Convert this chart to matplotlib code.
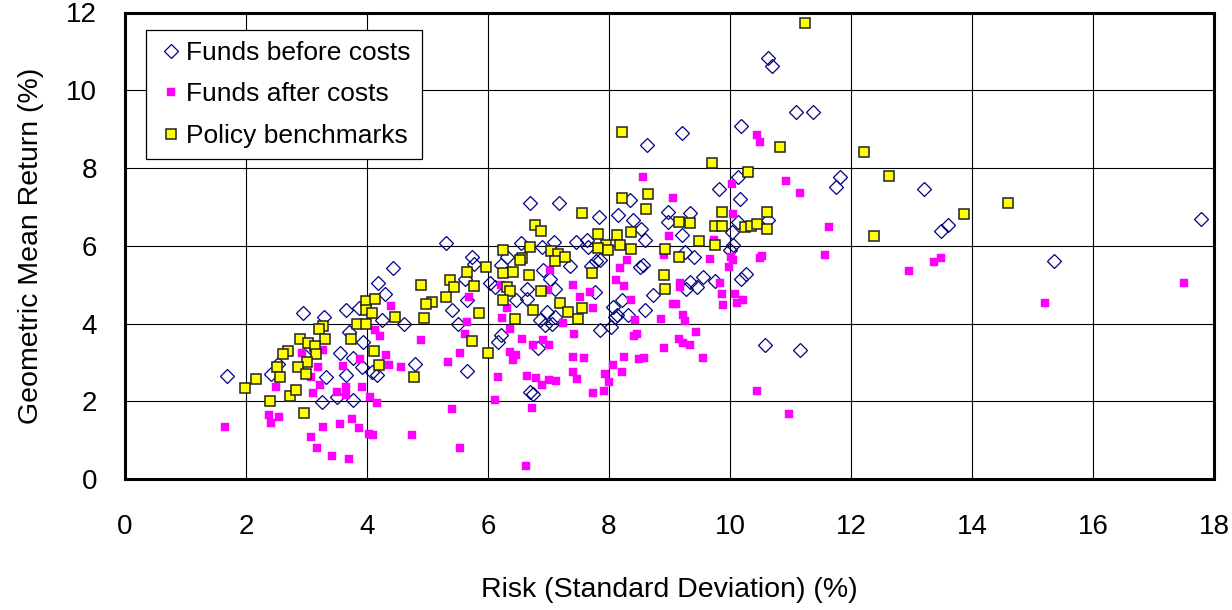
import matplotlib
matplotlib.use("Agg")
import matplotlib.pyplot as plt
import numpy as np

# ---- data: (risk, return) pairs ----
before_x = [4.43, 4.19, 4.29, 2.94, 3.29, 3.65, 3.86, 4.24, 4.61, 3.70, 3.94, 3.55, 3.07, 3.77, 3.91, 4.08,
            4.16, 4.79, 2.41, 2.53, 1.68, 3.32, 3.66, 3.25, 3.50, 3.77,
            6.70, 7.18, 7.83, 8.15, 5.31, 6.54, 6.89, 7.09, 7.45, 7.63, 7.66, 5.73, 5.77, 6.31, 7.36, 7.79,
            7.70, 6.91, 7.02, 5.62, 6.03, 6.64, 7.11, 5.65, 5.40, 6.47, 6.64, 6.97, 7.11, 7.05, 6.86, 5.51,
            7.77, 8.07, 8.10, 7.85, 8.04, 6.22, 6.17, 6.83, 5.65, 6.74, 6.70, 6.22, 6.12, 6.94,
            8.63, 10.14, 9.82, 10.17, 8.35, 8.40, 8.53, 8.60, 8.98, 8.98, 9.34, 9.20, 10.03, 10.14, 10.63,
            10.05, 10.00, 7.85, 9.40, 9.26, 8.57, 8.51, 9.56, 9.75, 9.34, 9.45, 9.28, 10.19, 10.27, 8.73,
            8.21, 8.13, 8.32, 8.60, 10.58, 11.16,
            10.62, 10.69, 11.09, 11.37, 10.18, 9.21,
            11.82, 11.75, 13.21, 13.61, 13.49, 17.79, 15.36]
before_y = [5.43, 5.03, 4.77, 4.26, 4.17, 4.34, 4.39, 4.08, 4.00, 3.78, 3.53, 3.24, 3.36, 3.10, 2.88, 2.75,
            2.67, 2.97, 2.71, 2.97, 2.64, 2.63, 2.67, 1.98, 2.11, 2.03,
            7.10, 7.09, 6.74, 6.79, 6.06, 6.06, 5.97, 6.10, 6.10, 6.14, 5.97, 5.70, 5.54, 5.70, 5.48, 5.60,
            5.48, 5.37, 5.15, 5.14, 5.03, 4.88, 4.88, 4.60, 4.34, 4.60, 4.62, 4.30, 4.17, 4.00, 4.08, 4.00,
            4.81, 4.43, 4.17, 3.83, 3.91, 3.70, 3.53, 3.36, 2.78, 2.18, 2.24, 5.50, 4.94, 3.96,
            8.59, 7.77, 7.47, 7.20, 7.17, 6.66, 6.43, 6.16, 6.87, 6.61, 6.83, 6.27, 6.36, 6.61, 6.66,
            6.02, 5.89, 5.63, 5.71, 5.84, 5.50, 5.46, 5.20, 5.10, 5.07, 4.94, 4.90, 5.15, 5.27, 4.73,
            4.60, 4.21, 4.21, 4.34, 3.44, 3.31,
            10.82, 10.62, 9.45, 9.45, 9.09, 8.89,
            7.76, 7.52, 7.47, 6.53, 6.38, 6.70, 5.61]

after_x = [4.40, 4.13, 4.21, 3.28, 3.19, 3.88, 3.60, 4.36, 4.56, 2.92, 2.49, 3.22, 3.11, 3.66, 3.91, 3.66,
           4.05, 4.16, 3.50, 2.38, 2.55, 2.42, 1.66, 3.27, 3.56, 3.76, 3.87, 4.03, 4.10, 4.74, 3.08, 3.18,
           3.42, 3.71, 4.32, 3.08,
           7.02, 7.40, 7.52, 7.69, 7.74, 8.12, 5.69, 6.31, 5.65, 5.62, 6.23, 6.36, 6.56, 6.75, 6.91, 7.00,
           7.24, 7.42, 4.90, 5.54, 5.34, 6.36, 6.47, 6.42, 7.40, 7.59, 7.41, 7.47, 8.07, 7.93, 8.00, 7.91,
           7.73, 6.17, 6.64, 6.80, 6.89, 7.00, 7.12, 6.12, 6.72, 5.41, 5.54, 6.63, 6.22, 6.99,
           8.57, 9.05, 10.04, 10.05, 10.92, 11.15, 8.99, 9.74, 9.67, 10.02, 10.05, 9.98, 10.53, 10.50, 8.29,
           8.91, 8.18, 8.25, 9.18, 9.18, 9.83, 9.86, 9.89, 10.09, 10.21, 10.11, 8.37, 9.05, 9.10, 8.43,
           8.86, 9.23, 9.26, 9.44, 8.46, 8.42, 9.16, 9.23, 9.34, 8.91, 8.25, 8.50, 8.58, 9.56, 8.22,
           10.45, 10.98,
           10.44, 10.50,
           11.64, 11.57, 12.96, 13.38, 13.49, 15.21, 17.51]
after_y = [4.45, 3.83, 3.67, 3.31, 2.88, 3.08, 2.90, 2.94, 2.89, 3.23, 2.37, 2.41, 2.20, 2.37, 2.37, 2.15,
           2.11, 1.96, 2.24, 1.64, 1.60, 1.43, 1.34, 1.34, 1.41, 1.55, 1.30, 1.17, 1.12, 1.14, 1.07, 0.80,
           0.58, 0.52, 3.18, 2.62,
           5.37, 4.99, 4.69, 4.81, 4.39, 5.11, 4.69, 4.40, 4.04, 3.74, 4.13, 3.87, 3.61, 3.44, 3.57, 3.44,
           4.02, 3.74, 3.57, 3.24, 3.01, 3.27, 3.18, 3.05, 3.14, 3.11, 2.75, 2.58, 2.93, 2.71, 2.50, 2.26,
           2.20, 2.63, 2.65, 2.60, 2.41, 2.54, 2.51, 2.03, 1.83, 1.79, 0.81, 0.34, 4.99, 4.86,
           7.77, 7.24, 7.60, 6.81, 7.67, 7.35, 6.25, 6.16, 5.66, 5.71, 5.63, 5.46, 5.74, 5.69, 5.63,
           5.76, 5.44, 4.96, 5.03, 4.94, 5.03, 4.75, 4.47, 4.77, 4.60, 4.53, 4.60, 4.51, 4.51, 4.10,
           4.11, 4.21, 4.07, 3.78, 3.74, 3.67, 3.59, 3.50, 3.44, 3.38, 3.14, 3.08, 3.11, 3.11, 2.75,
           2.27, 1.68,
           8.86, 8.66,
           6.49, 5.76, 5.35, 5.59, 5.69, 4.54, 5.03]

bench_x = [3.98, 4.14, 3.99, 4.08, 4.47, 3.84, 3.98, 3.27, 3.21, 3.74, 3.31, 2.90, 3.03, 3.14, 3.16, 2.69,
           2.61, 3.01, 2.86, 2.52, 2.57, 2.99, 4.11, 4.20, 4.78, 2.17, 1.98, 2.73, 2.83, 2.40, 2.96,
           7.55, 6.77, 6.87, 7.82, 7.95, 7.82, 7.99, 8.13, 6.24, 6.70, 7.04, 7.16, 6.56, 6.53, 7.10, 7.27,
           5.96, 5.66, 6.24, 6.41, 6.67, 7.72, 4.90, 5.37, 5.43, 5.77, 6.32, 6.36, 6.87, 5.07, 4.98, 5.30,
           6.24, 7.19, 7.55, 7.32, 6.75, 5.85, 4.94, 6.45, 7.49, 5.74, 6.00,
           9.70, 10.29, 8.21, 8.64, 8.61, 9.86, 10.61, 9.15, 9.34, 9.75, 9.86, 10.25, 10.35, 10.44, 10.61,
           8.36, 8.18, 8.37, 8.93, 9.48, 9.75, 9.16, 8.91, 8.93, 10.82,
           11.24, 8.22,
           12.21, 12.62, 13.86, 14.60, 12.38]
bench_y = [4.58, 4.63, 4.34, 4.28, 4.17, 3.98, 3.98, 3.94, 3.87, 3.59, 3.59, 3.61, 3.51, 3.42, 3.21, 3.29,
           3.21, 3.01, 2.88, 2.87, 2.62, 2.69, 3.29, 2.92, 2.63, 2.56, 2.33, 2.14, 2.28, 2.00, 1.69,
           6.83, 6.53, 6.38, 6.29, 6.03, 5.93, 5.89, 6.27, 5.89, 5.96, 5.86, 5.78, 5.69, 5.63, 5.61, 5.70,
           5.46, 5.33, 5.30, 5.33, 5.24, 5.30, 5.00, 5.11, 4.93, 4.96, 4.93, 4.84, 4.84, 4.56, 4.50, 4.67,
           4.60, 4.54, 4.40, 4.30, 4.34, 4.27, 4.13, 4.11, 4.11, 3.54, 3.24,
           8.13, 7.90, 7.22, 7.32, 6.94, 6.87, 6.87, 6.61, 6.59, 6.51, 6.51, 6.49, 6.51, 6.56, 6.42,
           6.36, 6.02, 5.91, 5.91, 6.13, 6.02, 5.71, 5.26, 4.90, 8.53,
           11.72, 8.92,
           8.40, 7.80, 6.81, 7.10, 6.25]

series_labels = ["Funds before costs", "Funds after costs", "Policy benchmarks"]
x_ticks = [0, 2, 4, 6, 8, 10, 12, 14, 16, 18]
y_ticks = [0, 2, 4, 6, 8, 10, 12]

plt.rcParams['font.family'] = ['Liberation Sans', 'DejaVu Sans']

fig = plt.figure(figsize=(12.32, 6.10), dpi=100)
W, H = 1232, 610
ax = fig.add_axes([125 / W, (H - 479) / H, 1089 / W, 466.5 / H])

ax.plot(before_x, before_y, linestyle='none', marker='D', markersize=7.0,
        markerfacecolor='none', markeredgecolor='#000080', markeredgewidth=0.9,
        label=series_labels[0], zorder=3)
ax.plot(after_x, after_y, linestyle='none', marker='s', markersize=6.3,
        markerfacecolor='#FF00FF', markeredgecolor='#FF00FF', markeredgewidth=0.3,
        label=series_labels[1], zorder=4)
ax.plot(bench_x, bench_y, linestyle='none', marker='s', markersize=7.6,
        markerfacecolor='#FFFF00', markeredgecolor='#222222', markeredgewidth=1.1,
        label=series_labels[2], zorder=5)

ax.set_xlim(0, 18)
ax.set_ylim(0, 12)
ax.set_xticks(x_ticks)
ax.set_yticks(y_ticks)
ax.set_xticklabels([str(t) for t in x_ticks])
ax.set_yticklabels([str(t) for t in y_ticks])
ax.tick_params(axis='both', length=0, labelsize=20)
ax.tick_params(axis='x', pad=25)
ax.tick_params(axis='y', pad=20)

ax.grid(True, color='black', linewidth=0.8)
ax.set_axisbelow(True)
for s in ax.spines.values():
    s.set_linewidth(2.2)
    s.set_color('black')

ax.set_xlabel("Risk (Standard Deviation) (%)", fontsize=20.5, labelpad=27)
ax.set_ylabel("Geometric Mean Return (%)", fontsize=20.5, labelpad=16)

leg = ax.legend(loc='upper left', bbox_to_anchor=(0.0193, 0.9625), borderaxespad=0,
                fontsize=19, frameon=True, fancybox=False, edgecolor='black',
                framealpha=1, borderpad=0.42, labelspacing=0.66,
                handlelength=1.05, handletextpad=0.05, numpoints=1)
leg.get_frame().set_linewidth(0.9)

fig.savefig("out.png", dpi=100)
